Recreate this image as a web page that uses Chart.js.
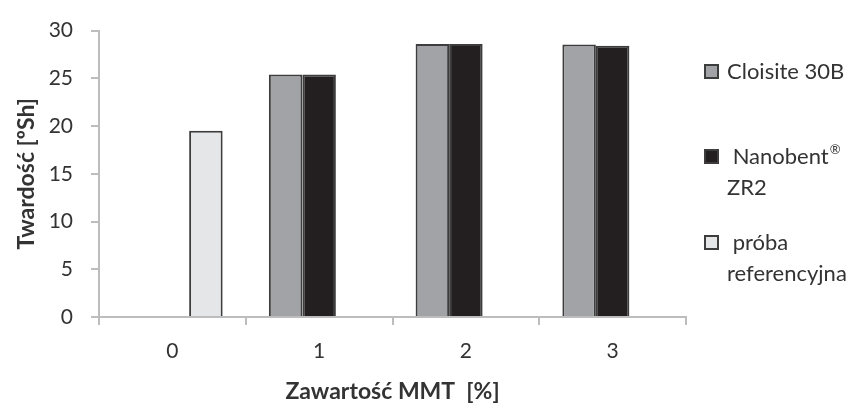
<!DOCTYPE html>
<html>
<head>
<meta charset="utf-8">
<script src="https://cdn.jsdelivr.net/npm/chart.js@4.4.0/dist/chart.umd.min.js"></script>
<style>
  body { margin: 0; background: #fff; }
  #wrap { width: 864px; height: 405px; }
</style>
</head>
<body>
<div id="wrap"><canvas id="chart" width="864" height="405"></canvas></div>
<script>
// data
var categories = ['0', '1', '2', '3'];
var cloisite = [null, 25.4, 28.6, 28.55];
var nanobent = [null, 25.4, 28.6, 28.4];
var referencyjna = [19.5, null, null, null];
var seriesLabels = [['Cloisite 30B'], [' Nanobent\u00ae', 'ZR2'], [' pr\u00f3ba', 'referencyjna']];
var yTitle = 'Twardo\u015b\u0107 [\u00baSh]';
var xTitle = 'Zawarto\u015b\u0107 MMT  [%]';

var textColor = '#333333';
var axisColor = '#bdbdbd';
var edge = '#3d3d3d';

// legend drawn on the right, labels can wrap onto two lines
var sideLegend = {
    id: 'sideLegend',
    afterDraw: function (chart) {
        var ctx = chart.ctx;
        var rows = [72, 157, 243];
        ctx.save();
        ctx.textBaseline = 'middle';
        ctx.textAlign = 'left';
        chart.data.datasets.forEach(function (ds, i) {
            var y = rows[i];
            ctx.fillStyle = ds.backgroundColor;
            ctx.fillRect(705, y - 7, 13, 13);
            ctx.strokeStyle = edge;
            ctx.lineWidth = 2;
            ctx.strokeRect(705, y - 7, 13, 13);
            ctx.fillStyle = textColor;
            ds.label.forEach(function (line, j) {
                var ly = y + j * 31;
                // small raised (R) mark like the original
                var parts = line.split('\u00ae');
                ctx.font = '22px Lato';
                ctx.fillText(parts[0], 727, ly);
                if (parts.length > 1) {
                    var w = ctx.measureText(parts[0]).width;
                    ctx.font = '13px Lato';
                    ctx.fillText('\u00ae', 727 + w + 1, ly - 7);
                }
            });
        });
        ctx.restore();
    }
};

var ctx = document.getElementById('chart').getContext('2d');
var chart = new Chart(ctx, {
    type: 'bar',
    data: {
        labels: categories,
        datasets: [
            { label: seriesLabels[0], data: cloisite, backgroundColor: '#a2a3a7' },
            { label: seriesLabels[1], data: nanobent, backgroundColor: '#231f20' },
            { label: seriesLabels[2], data: referencyjna, backgroundColor: '#e5e6e8' }
        ]
    },
    options: {
        responsive: false,
        devicePixelRatio: 1,
        animation: false,
        layout: { padding: { left: 0, right: 178, top: 25, bottom: 0 } },
        datasets: {
            bar: {
                borderColor: edge,
                borderWidth: 2,
                barPercentage: 1,
                categoryPercentage: 0.685
            }
        },
        plugins: {
            legend: { display: false },
            tooltip: { enabled: false }
        },
        scales: {
            x: {
                grid: { offset: true, drawOnChartArea: false, color: axisColor, lineWidth: 2, tickLength: 8 },
                border: { color: axisColor, width: 2 },
                ticks: { color: textColor, font: { family: 'Lato', size: 21 }, padding: 14 },
                title: { display: true, text: xTitle, color: textColor, font: { family: 'Lato', size: 23, weight: 'bold' }, padding: 0 },
                afterFit: function (scale) { scale.height = 88; }
            },
            y: {
                min: 0,
                max: 30,
                ticks: { stepSize: 5, color: textColor, font: { family: 'Lato', size: 21 }, padding: 18 },
                grid: { drawOnChartArea: false, color: axisColor, lineWidth: 2, tickLength: 8 },
                border: { color: axisColor, width: 2 },
                title: { display: true, text: yTitle, color: textColor, font: { family: 'Lato', size: 23, weight: 'bold' }, padding: { top: 13 } },
                afterFit: function (scale) { scale.width = 99; }
            }
        }
    },
    plugins: [sideLegend]
});
</script>
</body>
</html>
